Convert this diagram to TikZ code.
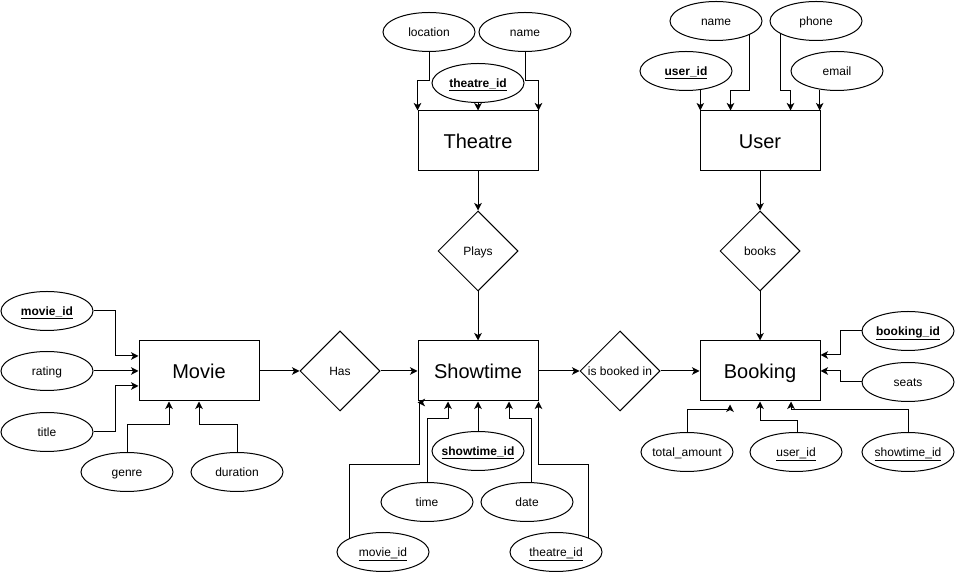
\documentclass[tikz,border=0pt]{standalone}
\usepackage{fontspec}
\setmainfont{Liberation Sans}
\usetikzlibrary{shapes.geometric,arrows.meta}
\newcommand{\pkey}[1]{\underline{\textbf{#1}}}
\newcommand{\fkey}[1]{\underline{#1}}
\newcommand{\cbox}[1]{\makebox[0pt]{#1}}
\begin{document}
\begin{tikzpicture}[x=1pt,y=1pt,line width=1pt,
  entity/.style={draw,rectangle,minimum width=120pt,minimum height=60pt,inner sep=0pt,text height=14.3pt,text depth=0pt,font=\fontsize{20}{24}\selectfont},
  relation/.style={draw,diamond,minimum width=80pt,minimum height=80pt,inner sep=0pt,text height=8.6pt,text depth=0pt,font=\fontsize{12}{14}\selectfont},
  attrib/.style={draw,ellipse,minimum width=92pt,minimum height=39pt,inner sep=0pt,text height=8.6pt,text depth=0pt,font=\fontsize{12}{14}\selectfont},
  link/.style={-{Stealth[length=7.5pt,width=7.5pt,inset=2pt]}}]
\fill[white] (0,0) rectangle (955,572);
% Drawing entities
\node[entity] (theatre) at (478,431) {Theatre};
\node[entity] (user) at (760,431) {User};
\node[entity] (movie) at (199,201) {Movie};
\node[entity] (showtime) at (478,201) {Showtime};
\node[entity] (booking) at (760,201) {Booking};
% Done with entities; drawing relations
\node[relation] (plays) at (478,321) {\cbox{Plays}};
\node[relation] (books) at (760,321) {\cbox{books}};
\node[relation] (has) at (340,201) {\cbox{Has}};
\node[relation] (bookedin) at (620,201) {\cbox{is booked in}};
% Done with relations; drawing attributes
% Theatre
\node[attrib] (t_loc) at (429,540) {\cbox{location}};
\node[attrib] (t_name) at (525,540) {\cbox{name}};
\node[attrib] (t_id) at (478,489) {\cbox{\pkey{theatre\_id}}};
% User
\node[attrib] (u_name) at (716,551) {\cbox{name}};
\node[attrib] (u_phone) at (816,551) {\cbox{phone}};
\node[attrib] (u_id) at (686,501) {\cbox{\pkey{user\_id}}};
\node[attrib] (u_email) at (837,501) {\cbox{email}};
% Movie
\node[attrib] (m_id) at (47,261) {\cbox{\pkey{movie\_id}}};
\node[attrib] (m_rating) at (47,201) {\cbox{rating}};
\node[attrib] (m_title) at (47,140) {\cbox{title}};
\node[attrib] (m_genre) at (127,100) {\cbox{genre}};
\node[attrib] (m_dur) at (237,100) {\cbox{duration}};
% Showtime
\node[attrib] (s_id) at (478,121) {\cbox{\pkey{showtime\_id}}};
\node[attrib] (s_time) at (427,70) {\cbox{time}};
\node[attrib] (s_date) at (527,70) {\cbox{date}};
\node[attrib] (s_movie) at (383,20) {\cbox{\fkey{movie\_id}}};
\node[attrib] (s_theatre) at (556,20) {\cbox{\fkey{theatre\_id}}};
% Booking
\node[attrib] (b_id) at (908,241) {\cbox{\pkey{booking\_id}}};
\node[attrib] (b_seats) at (908,190) {\cbox{seats}};
\node[attrib] (b_total) at (687,120) {\cbox{total\_amount}};
\node[attrib] (b_user) at (796,120) {\cbox{\fkey{user\_id}}};
\node[attrib] (b_show) at (908,120) {\cbox{\fkey{showtime\_id}}};
% Done with attributes; drawing links
\draw[link] (t_loc.south) -- ++(0,-28.5) -| (theatre.north west);
\draw[link] (t_name.south) -- ++(0,-28.5) -| (theatre.north east);
\draw[link] (t_id) -- (theatre);
\draw[link] (u_id.-53) -- (u_id.-53 |- user.north);
\draw[link] (u_name.-22) -- ++(0,-55.4) -| ([xshift=31pt]user.north west);
\draw[link] (u_phone.200) -- ++(0,-56.4) -| ([xshift=91pt]user.north west);
\draw[link] (u_email.227) -- (u_email.227 |- user.north);
\draw[link] (m_id.east) -- ++(22,0) |- ([yshift=15pt]movie.west);
\draw[link] (m_rating) -- (movie);
\draw[link] (m_title.east) -- ++(22,0) |- ([yshift=-15pt]movie.west);
\draw[link] (m_genre.north) -- ++(0,27.5) -| ([xshift=-30pt]movie.south);
\draw[link] (m_dur.north) -- ++(0,27.5) -| (movie.south);
\draw[link] (s_id) -- (showtime);
\draw[link] (s_time.north) -- ++(0,63.5) -| ([xshift=-30pt]showtime.south);
\draw[link] ([xshift=4pt]s_date.north) -- ++(0,63.5) -| ([xshift=31pt]showtime.south);
\draw[link] (s_movie.157) -- ++(0,73.4) -| ([xshift=2pt,yshift=-1pt]showtime.south west) -- ([yshift=-1pt]showtime.south west);
\draw[link] (s_theatre.24) -- ++(0,73) -| (showtime.south east);
\draw[link] (b_id.west) -- ++(-21,0) |- ([yshift=16pt]booking.east);
\draw[link] (b_seats.west) -- ++(-21,0) |- (booking.east);
\draw[link] (b_total.north) -- ++(0,22.5) -| ([xshift=-30pt,yshift=-3pt]booking.south);
\draw[link] ([xshift=1pt]b_user.north) -- ++(0,11.5) -| (booking.south);
\draw[link] (b_show.north) -- ++(0,22.5) -| ([xshift=31pt]booking.south);
% Relation links
\draw[link] (theatre) -- (plays);
\draw[link] (plays) -- (showtime);
\draw[link] (user) -- (books);
\draw[link] (books) -- (booking);
\draw[link] (movie) -- (has);
\draw[link] (has) -- (showtime);
\draw[link] (showtime) -- (bookedin);
\draw[link] (bookedin) -- (booking);
% Done with links
\end{tikzpicture}
\end{document}
